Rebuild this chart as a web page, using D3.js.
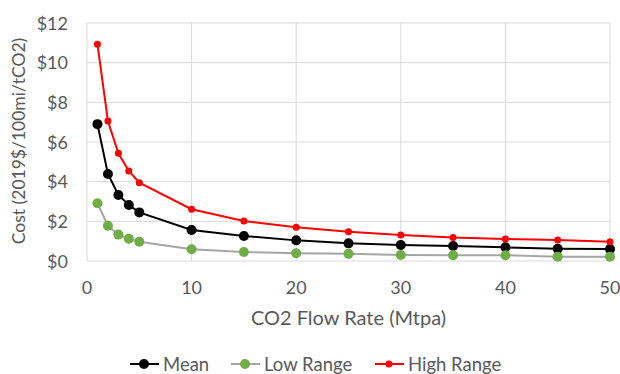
<!DOCTYPE html>
<html lang="en">
<head>
<meta charset="UTF-8">
<title>CO2 cost</title>
<script src="https://d3js.org/d3.v7.min.js"></script>
<style>
  body { margin: 0; background: #fff; }
  text { font-family: Lato, "Open Sans", sans-serif; fill: #595959; }
</style>
</head>
<body>
<div id="chart"></div>
<script>
var flow = [1, 2, 3, 4, 5, 10, 15, 20, 25, 30, 35, 40, 45, 50];
var mean = [6.9, 4.39, 3.33, 2.82, 2.45, 1.56, 1.26, 1.04, 0.89, 0.81, 0.76, 0.69, 0.62, 0.6];
var low = [2.91, 1.78, 1.33, 1.12, 0.97, 0.59, 0.45, 0.39, 0.36, 0.3, 0.29, 0.29, 0.22, 0.22];
var high = [10.93, 7.06, 5.43, 4.54, 3.95, 2.61, 2.02, 1.7, 1.48, 1.31, 1.18, 1.11, 1.06, 0.97];
var xTicks = [0, 10, 20, 30, 40, 50];
var yTicks = [0, 2, 4, 6, 8, 10, 12];

var width = 620, height = 374;
var mLeft = 87, mRight = 610, mTop = 23, mBottom = 261;

var svg = d3.select("#chart").append("svg")
    .attr("width", width)
    .attr("height", height);

var x = d3.scaleLinear().domain([0, 50]).range([mLeft, mRight]);
var y = d3.scaleLinear().domain([0, 12]).range([mBottom, mTop]);

// grid
svg.append("g").selectAll("line").data(yTicks).enter().append("line")
    .attr("x1", mLeft).attr("x2", mRight)
    .attr("y1", function(d) { return y(d); })
    .attr("y2", function(d) { return y(d); })
    .attr("stroke", "#d9d9d9").attr("stroke-width", 1);
svg.append("g").selectAll("line").data(xTicks).enter().append("line")
    .attr("y1", mTop).attr("y2", mBottom)
    .attr("x1", function(d) { return x(d); })
    .attr("x2", function(d) { return x(d); })
    .attr("stroke", "#d9d9d9").attr("stroke-width", 1);

// tick labels
svg.append("g").selectAll("text").data(yTicks).enter().append("text")
    .attr("x", mLeft - 19)
    .attr("y", function(d) { return y(d) + 6.5; })
    .attr("text-anchor", "end")
    .attr("font-size", "18px")
    .text(function(d) { return "$" + d; });
svg.append("g").selectAll("text").data(xTicks).enter().append("text")
    .attr("x", function(d) { return x(d); })
    .attr("y", 294)
    .attr("text-anchor", "middle")
    .attr("font-size", "18px")
    .text(function(d) { return d; });

svg.append("text")
    .attr("x", (mLeft + mRight) / 2)
    .attr("y", 325)
    .attr("text-anchor", "middle")
    .attr("font-size", "20px")
    .text("CO2 Flow Rate (Mtpa)");

svg.append("text")
    .attr("transform", "translate(25,141) rotate(-90)")
    .attr("text-anchor", "middle")
    .attr("font-size", "17.5px")
    .text("Cost (2019$/100mi/tCO2)");

var series = [
    {name: "Mean", values: mean, line: "#000000", dot: "#000000", r: 5},
    {name: "Low Range", values: low, line: "#a5a5a5", dot: "#70ad47", r: 5},
    {name: "High Range", values: high, line: "#ff0000", dot: "#ff0000", r: 3.5}
];

var line = d3.line()
    .x(function(d) { return x(d[0]); })
    .y(function(d) { return y(d[1]); });

series.forEach(function(s) {
    var pts = flow.map(function(f, i) { return [f, s.values[i]]; });
    svg.append("path")
        .attr("d", line(pts))
        .attr("fill", "none")
        .attr("stroke", s.line)
        .attr("stroke-width", 2);
    svg.append("g").selectAll("circle").data(pts).enter().append("circle")
        .attr("cx", function(d) { return x(d[0]); })
        .attr("cy", function(d) { return y(d[1]); })
        .attr("r", s.r)
        .attr("fill", s.dot);
});

// legend
var legX = [130, 231, 375];
var leg = svg.append("g");
series.forEach(function(s, i) {
    var lx = legX[i];
    leg.append("line")
        .attr("x1", lx).attr("x2", lx + 29)
        .attr("y1", 364).attr("y2", 364)
        .attr("stroke", s.line).attr("stroke-width", 2);
    leg.append("circle")
        .attr("cx", lx + 14).attr("cy", 364).attr("r", s.r)
        .attr("fill", s.dot);
    leg.append("text")
        .attr("x", lx + 33).attr("y", 371)
        .attr("font-size", "18.5px")
        .text(s.name);
});
</script>
</body>
</html>
